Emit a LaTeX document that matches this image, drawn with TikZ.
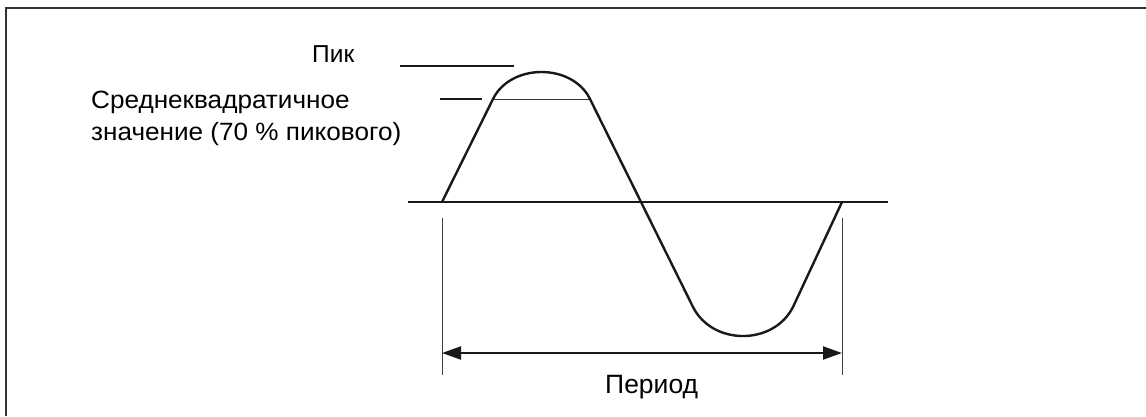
\documentclass[tikz,border=0pt]{standalone}
\usepackage{fontspec}
\setmainfont{Liberation Sans}
\newfontfamily\widesans[FakeStretch=1.045]{Liberation Sans}
\usetikzlibrary{arrows.meta}
\begin{document}
\begin{tikzpicture}[x=1pt,y=-1pt,
  lbl/.style={font=\fontsize{24.5}{29}\selectfont, inner sep=0pt, anchor=base west},
  widelbl/.style={font=\widesans\fontsize{25}{29}\selectfont, inner sep=0pt, anchor=base west},
  wave/.style={line width=2.4pt, line join=round, color=black!90},
  refline/.style={line width=2pt, color=black!90},
  thinline/.style={line width=0.9pt, color=black!75},
  dimarrow/.style={line width=2.2pt, color=black!90, {Triangle[length=19pt,width=13pt]}-{Triangle[length=19pt,width=13pt]}}]
\useasboundingbox (0,0) rectangle (1146,416);
% frame (only top and left edges visible)
\draw[line width=2pt, color=black!80] (6,416) -- (6,8) -- (1146,8);
% labels
\node[lbl] (pik) at (312,62.5) {Пик};
\node[widelbl] (rms1) at (91,108) {Среднеквадратичное};
\node[widelbl] (rms2) at (91,140) {значение (70~\% пикового)};
\node[lbl, font=\fontsize{26.5}{30}\selectfont] (per) at (605,393) {Период};
% reference lines
\coordinate (pkA) at (400,66);
\coordinate (pkB) at (514,66);
\draw[refline] (pkA) -- (pkB);
\coordinate (rmA) at (440,99);
\coordinate (rmB) at (482,99);
\draw[refline] (rmA) -- (rmB);
% zero line
\coordinate (zA) at (408,202);
\coordinate (zB) at (888,202);
\draw[refline, line width=2.2pt] (zA) -- (zB);
% waveform
\coordinate (w0) at (442,202);
\coordinate (w1) at (493,99);
\coordinate (w2) at (590,99);
\coordinate (w3) at (693,307);
\coordinate (w4) at (793,307);
\coordinate (w5) at (842,202);
\draw[thinline, line width=1pt, color=black!80] (w1) -- (w2);
\draw[wave] (w0) -- (w1) .. controls (510.8,63) and (572.2,63) .. (w2)
  -- (w3) .. controls (712.5,345.7) and (773.5,345.7) .. (w4) -- (w5);
% period markers
\coordinate (vlT) at (442,218);
\coordinate (vlB) at (442,375);
\coordinate (vrT) at (842,218);
\coordinate (vrB) at (842,375);
\draw[thinline] (vlT) -- (vlB);
\draw[thinline] (vrT) -- (vrB);
\coordinate (aL) at (442,353);
\coordinate (aR) at (842,353);
\draw[dimarrow] (aL) -- (aR);
\end{tikzpicture}
\end{document}
